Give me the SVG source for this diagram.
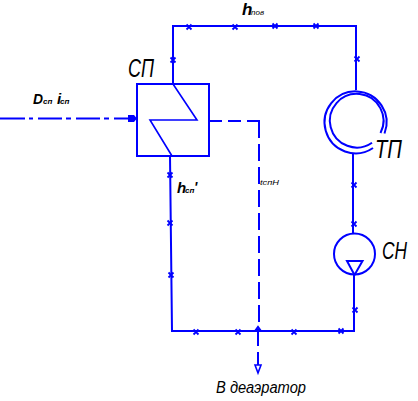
<svg xmlns="http://www.w3.org/2000/svg" width="418" height="401" viewBox="0 0 418 401">
<defs>
<path id="x" d="M-2.500-2.500L2.500 2.500M2.500-2.500L-2.500 2.500" class="m"/>
</defs>
<style>
.l{fill:none;stroke:#0000ff;stroke-width:2}
.t{fill:none;stroke:#0000ff;stroke-width:1.6}
.m{fill:none;stroke:#0000ff;stroke-width:1.8}
.a{fill:#0000ff}
text{font-family:"Liberation Sans",Arial,sans-serif;font-style:italic;fill:#000}
.big{font-size:26px}
.b{font-weight:bold}
</style>
<g id="connectors">
<path class="l" d="M173 84V26H356V90"/>
<path class="l" d="M353 153V233"/>
<path class="l" d="M354 275V331H172L170 156"/>
<path class="l" d="M0 118.500H25M29 118.500H33M38 118.500H62M66 118.500H71M76 118.500H100M104 118.500H109M114 118.500H130"/>
<path class="a" d="M128 115H134L137 118.500L134 122H128Z"/>
<path class="l" d="M209 121H222M228 121H241M247 121H259V138M259 144V161M259 167V184M259 190V207M259 213V230M259 236V253M259 259V276M259 282V299M259 305V322M258 329V346M258 352V365"/>
<path class="t" d="M255 365L258 373L261 365Z"/>
<path class="l" d="M255 331L258 327L261 331"/>
<g>
<use href="#x" x="189" y="27"/><use href="#x" x="235" y="27"/><use href="#x" x="275" y="26"/><use href="#x" x="316" y="26"/>
<use href="#x" x="173" y="60"/><use href="#x" x="357" y="59"/>
<use href="#x" x="354" y="185"/><use href="#x" x="354" y="224"/><use href="#x" x="355" y="310"/>
<use href="#x" x="170" y="175"/><use href="#x" x="170" y="223"/><use href="#x" x="171" y="275"/>
<use href="#x" x="196" y="332"/><use href="#x" x="238" y="332"/><use href="#x" x="294" y="332"/><use href="#x" x="341" y="331"/>
</g>
</g>
<g id="sp">
<rect class="l" x="137" y="84" width="72" height="72"/>
<path class="t" d="M173 84L197 120H150L172 156"/>
<text class="big" x="128" y="77" textLength="26" lengthAdjust="spacingAndGlyphs">СП</text>
</g>
<g id="tp">
<path class="l" d="M384.500 133.500A31 31 0 1 0 373 148"/>
<path class="l" d="M380.500 133A26.800 26.800 0 1 0 372 142.700"/>
<text class="big" x="375" y="158" textLength="27" lengthAdjust="spacingAndGlyphs">ТП</text>
</g>
<g id="on">
<circle class="l" cx="354.500" cy="254" r="20.500"/>
<path class="l" d="M347 261H362.500L354.500 275Z"/>
<text x="382" y="259" font-size="24" textLength="25" lengthAdjust="spacingAndGlyphs">СН</text>
</g>
<g id="labels">
<text class="b" x="33" y="104" font-size="15" textLength="10" lengthAdjust="spacingAndGlyphs">D</text><text class="b" x="43" y="104" font-size="8">сп</text>
<text class="b" x="57" y="104" font-size="15">i</text><text class="b" x="60" y="104" font-size="8">сп</text>
<text class="b" x="242" y="15" font-size="17">h</text><text x="251" y="15" font-size="8">nов</text>
<text class="b" x="177" y="193" font-size="15">h</text><text class="b" x="185" y="193" font-size="8">сп</text><text class="b" x="194" y="192" font-size="14">'</text>
<text x="260" y="185" font-size="8" textLength="19" lengthAdjust="spacingAndGlyphs">tспН</text>
<text x="216" y="393" font-size="16" textLength="90" lengthAdjust="spacingAndGlyphs">В деаэратор</text>
</g>
</svg>
